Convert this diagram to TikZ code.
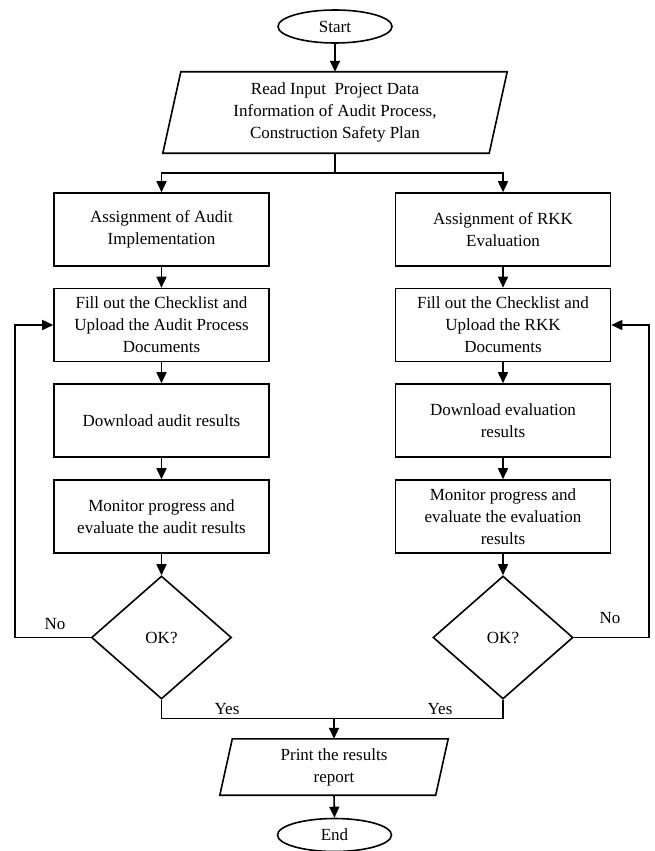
\documentclass[tikz,border=0pt]{standalone}
\usepackage{fontspec}
\setmainfont{Liberation Serif}
\usetikzlibrary{shapes.geometric,arrows.meta}
\begin{document}
\begin{tikzpicture}[x=1pt,y=-1pt,
  every node/.style={font=\fontsize{17}{22}\selectfont},
  conn/.style={line width=1.6pt, line join=miter},
  arr/.style={conn, -{Triangle[width=10pt,length=11pt]}},
  term/.style={draw, ellipse, line width=1.6pt, minimum width=114pt, minimum height=33pt, inner sep=0pt},
  procbox/.style={draw, rectangle, line width=1.6pt, minimum width=215pt, minimum height=73pt, align=center, inner sep=0pt},
  iobox/.style={rectangle, align=center, inner sep=0pt},
  decision/.style={draw, diamond, line width=1.6pt, minimum width=140pt, minimum height=123pt, inner sep=0pt},
  lbl/.style={inner sep=1pt}
]
\useasboundingbox (0,0) rectangle (654,851);

\node[term] (start) at (335,26.5) {Start};

\node[iobox, minimum width=344pt, minimum height=81pt] (read) at (335,112.5)
  {Read Input\ \ Project Data\\Information of Audit Process,\\Construction Safety Plan};
\draw[conn] (read.south west) -- ([xshift=-18pt]read.south east) -- (read.north east)
  -- ([xshift=18pt]read.north west) -- cycle;

\node[procbox] (a1) at (161.5,229.5) {Assignment of Audit\\Implementation};
\node[procbox] (a2) at (161.5,325) {Fill out the Checklist and\\Upload the Audit Process\\Documents};
\node[procbox] (a3) at (161.5,420.5) {Download audit results};
\node[procbox] (a4) at (161.5,516.5) {Monitor progress and\\evaluate the audit results};
\node[decision] (da) at (161.5,637.5) {OK?};

\node[procbox] (b1) at (503,229.5) {Assignment of RKK\\Evaluation};
\node[procbox] (b2) at (503,325) {Fill out the Checklist and\\Upload the RKK\\Documents};
\node[procbox] (b3) at (503,420.5) {Download evaluation\\results};
\node[procbox] (b4) at (503,516.5) {Monitor progress and\\evaluate the evaluation\\results};
\node[decision] (db) at (503,637.5) {OK?};

\node[iobox, minimum width=228pt, minimum height=56pt] (print) at (334,767) {Print the results\\report};
\draw[conn] (print.south west) -- ([xshift=-12.5pt]print.south east) -- (print.north east)
  -- ([xshift=12.5pt]print.north west) -- cycle;

\node[term] (end) at (334.5,835) {End};

\node[lbl] (noa) at (55,624) {No};
\node[lbl] (nob) at (610,618) {No};
\node[lbl] (yesa) at (227,709) {Yes};
\node[lbl] (yesb) at (440,709) {Yes};

\coordinate (split) at (335,173);
\coordinate (la) at (15,637.5);
\coordinate (lb) at (649,637.5);
\coordinate (merge) at (334,718.5);

\draw[arr] (start.south) -- (read.north);
\draw[conn] (read.south) -- (split);
\draw[arr] (split) -| (a1.north);
\draw[arr] (split) -| (b1.north);

\draw[arr] (a1.south) -- (a2.north);
\draw[arr] (a2.south) -- (a3.north);
\draw[arr] (a3.south) -- (a4.north);
\draw[arr] (a4.south) -- (da.north);

\draw[arr] (b1.south) -- (b2.north);
\draw[arr] (b2.south) -- (b3.north);
\draw[arr] (b3.south) -- (b4.north);
\draw[arr] (b4.south) -- (db.north);

\draw[arr] (da.west) -- (la) |- (a2.west);
\draw[arr] (db.east) -- (lb) |- (b2.east);

\draw[conn] (da.south) |- (merge);
\draw[conn] (db.south) |- (merge);
\draw[arr] (merge) -- (print.north);
\draw[arr] (print.south) -- (end.north);
\end{tikzpicture}
\end{document}
